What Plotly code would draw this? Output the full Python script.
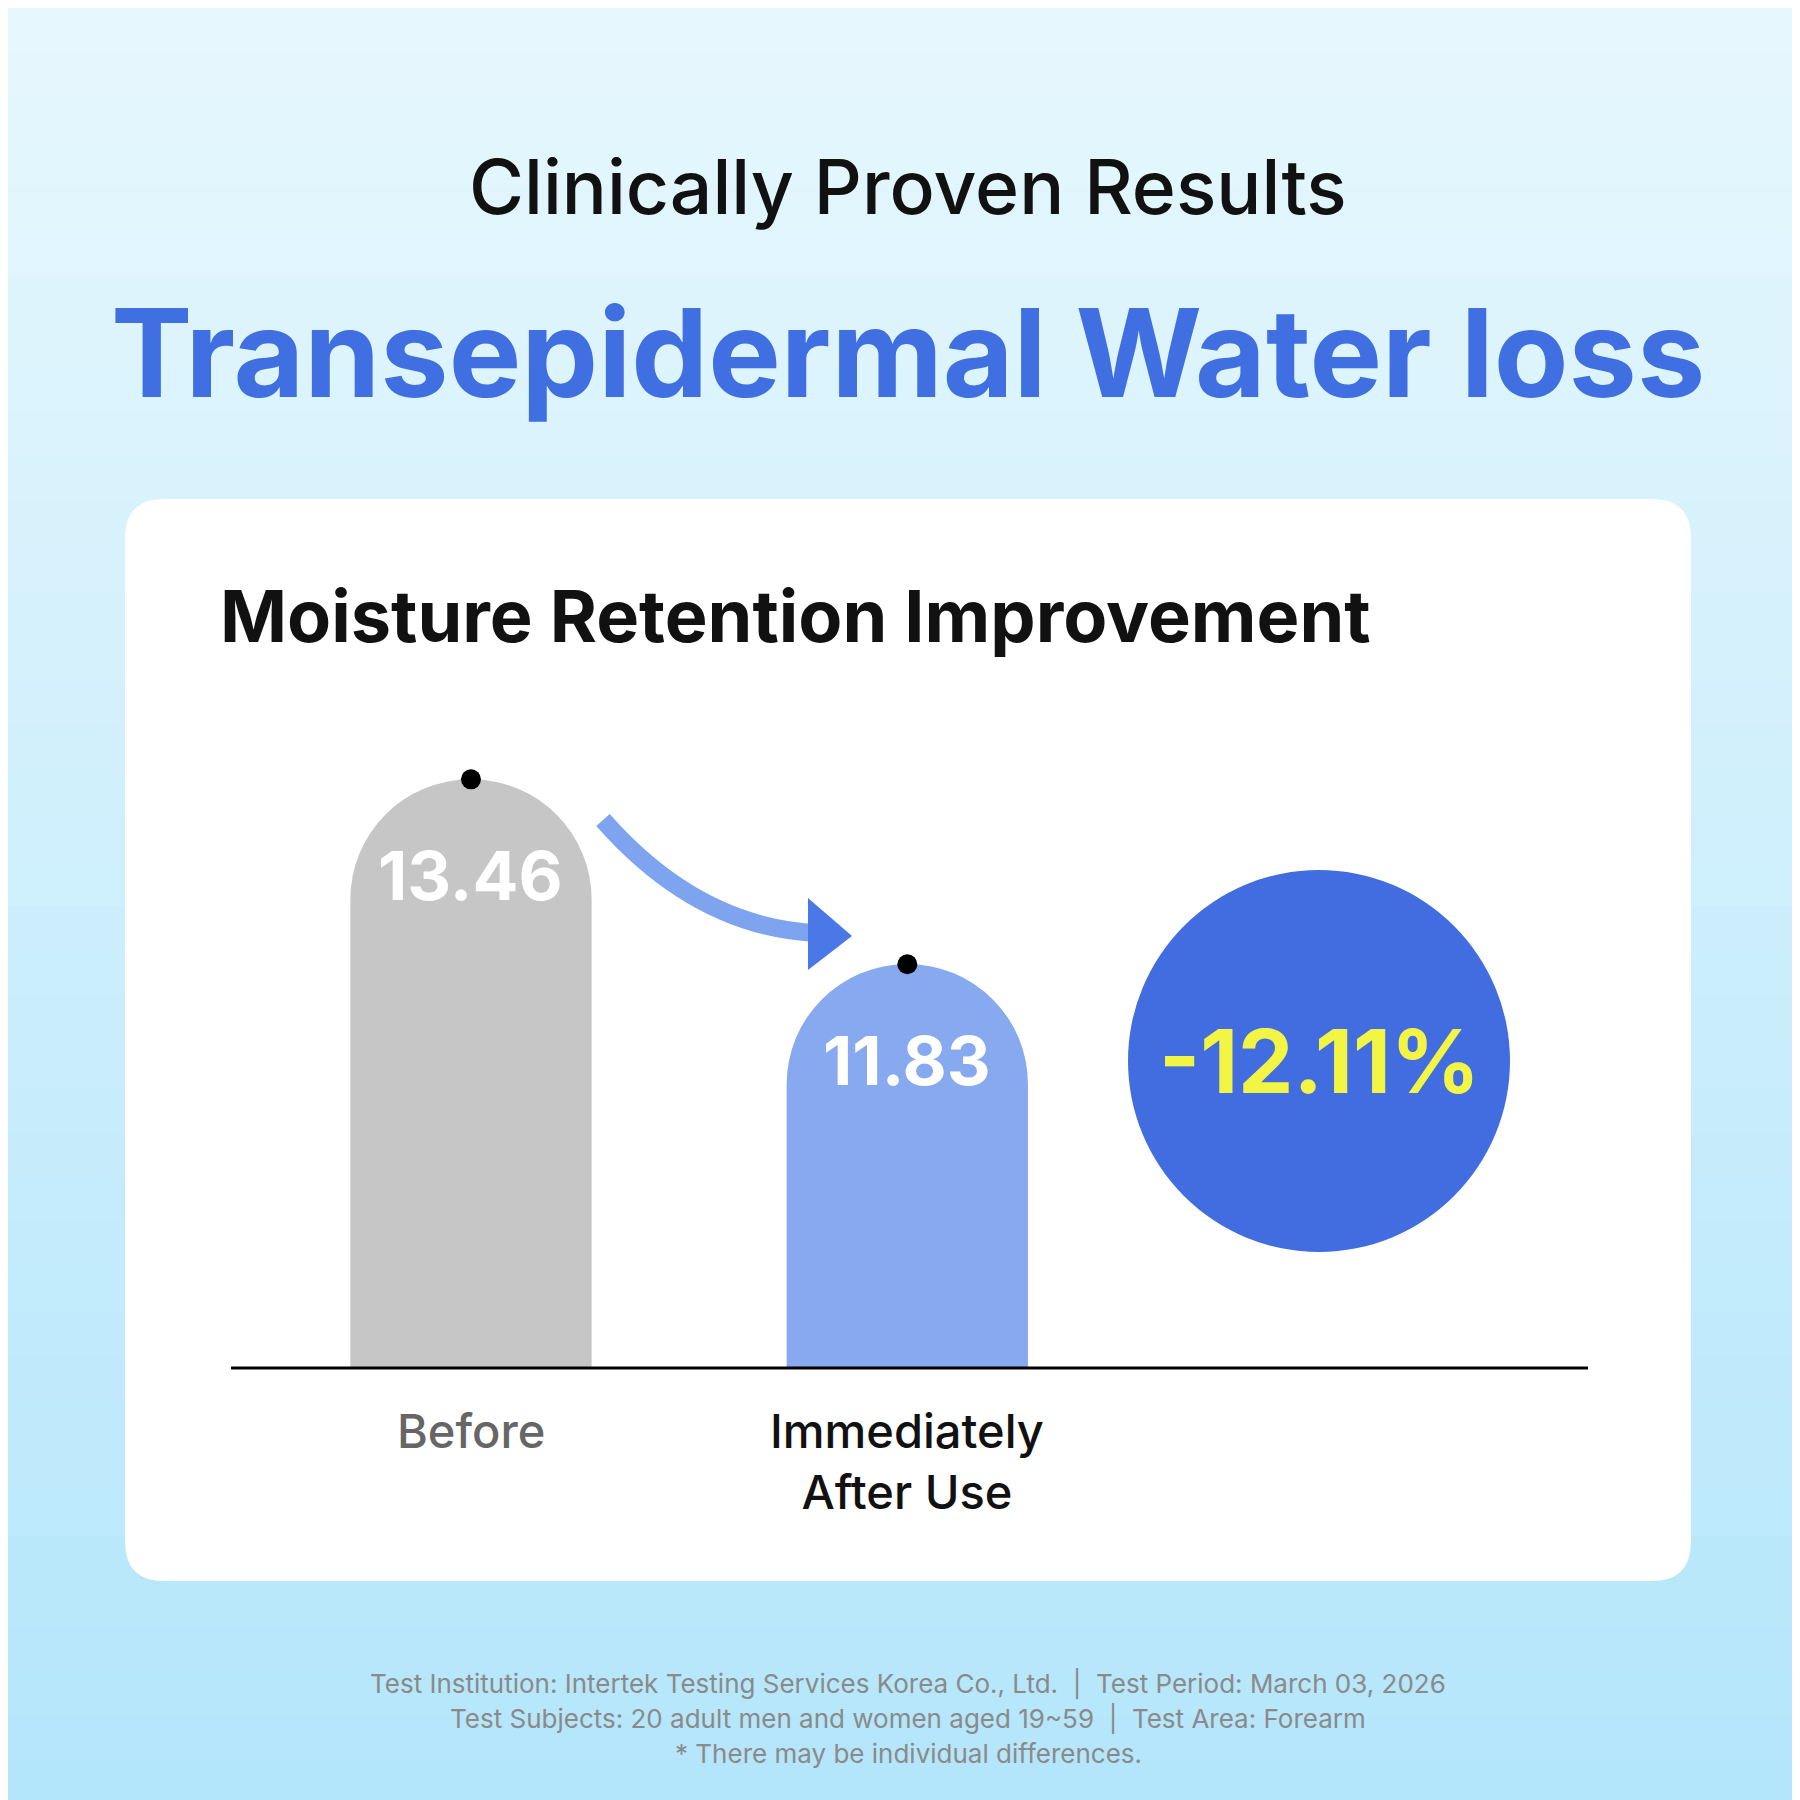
import plotly.graph_objects as go

# chart data
categories = ["Before", "Immediately<br>After Use"]
values = [13.46, 11.83]
value_labels = ["13.46", "11.83"]
change_label = "-12.11%"
footer_lines = [
    "Test Institution: Intertek Testing Services Korea Co., Ltd.  |  Test Period: March 03, 2026",
    "Test Subjects: 20 adult men and women aged 19~59  |  Test Area: Forearm",
    "* There may be individual differences.",
]

W = H = 1800
FONT = "Inter"


def px_y(p):
    return 1 - p / H


def px_x(p):
    return p / W


xs = list(range(len(values)))
fig = go.Figure()
fig.add_bar(x=xs, y=values, width=0.553,
            marker=dict(color=["#c6c6c6", "#86a9f0"], cornerradius="50%", line_width=0),
            hoverinfo="skip")
fig.add_scatter(x=xs, y=values, mode="markers",
                marker=dict(color="black", size=20), hoverinfo="skip")

shapes = []
# background gradient
n = 40
c0, c1 = (230, 247, 253), (180, 230, 251)
for i in range(n):
    t = i / (n - 1)
    col = "rgb(%d,%d,%d)" % tuple(round(a + (b - a) * t) for a, b in zip(c0, c1))
    shapes.append(dict(type="rect", xref="paper", yref="paper", layer="below",
                       x0=-0.01, x1=1.01, y0=1 - (i + 1) / n - 0.001, y1=1 - i / n + 0.001,
                       fillcolor=col, line_width=0))
# white card
x0, x1, y0, y1 = px_x(117), px_x(1683), px_y(1573), px_y(491)
r = 0.022
shapes.append(dict(type="path", xref="paper", yref="paper", layer="below",
                   path=f"M{x0+r},{y0} L{x1-r},{y0} Q{x1},{y0} {x1},{y0+r} L{x1},{y1-r} Q{x1},{y1} {x1-r},{y1} "
                        f"L{x0+r},{y1} Q{x0},{y1} {x0},{y1-r} L{x0},{y0+r} Q{x0},{y0} {x0+r},{y0} Z",
                   fillcolor="white", line_width=0))
# baseline
shapes.append(dict(type="line", xref="paper", yref="paper", x0=px_x(223), x1=px_x(1580),
                   y0=px_y(1360), y1=px_y(1360), line=dict(color="black", width=3)))
# circle
cx, cy, cr = 1311, 1053, 191
shapes.append(dict(type="circle", xref="paper", yref="paper",
                   x0=px_x(cx - cr), x1=px_x(cx + cr), y0=px_y(cy + cr), y1=px_y(cy - cr),
                   fillcolor="#416de0", line_width=0))
# curved arrow
shapes.append(dict(type="path", xref="paper", yref="paper",
                   path=f"M{px_x(595)},{px_y(812)} Q{px_x(690)},{px_y(920)} {px_x(810)},{px_y(925)}",
                   line=dict(color="#7ea4f0", width=18)))
shapes.append(dict(type="path", xref="paper", yref="paper",
                   path=f"M{px_x(800)},{px_y(890)} L{px_x(844)},{px_y(928)} L{px_x(800)},{px_y(962)} Z",
                   fillcolor="#4a78e6", line_width=0))

ann = [
    dict(text="Clinically Proven Results", x=0.5, y=px_y(178), font=dict(size=75, color="#111111", family=FONT, weight=500)),
    dict(text="<b>Transepidermal Water loss</b>", x=0.5, y=px_y(344), font=dict(size=122, color="#3f6fe0", family=FONT, weight=800)),
    dict(text="<b>Moisture Retention Improvement</b>", x=px_x(210), y=px_y(608), xanchor="left",
         font=dict(size=72, color="#111111", family=FONT)),
    dict(text="<b>" + change_label + "</b>", x=px_x(cx), y=px_y(cy), font=dict(size=88, color="#f3f545", family=FONT)),
]
for i, (v, lab, cat) in enumerate(zip(values, value_labels, categories)):
    ann.append(dict(text="<b>" + lab + "</b>", x=i, y=v - 0.84, xref="x", yref="y",
                    font=dict(size=68, color="white", family=FONT)))
    ann.append(dict(text=cat, x=i, y=px_y(1392), xref="x", yanchor="top",
                    font=dict(size=47, color="#666666" if i == 0 else "#111111", family=FONT, weight=500)))
for j, line in enumerate(footer_lines):
    ann.append(dict(text=line, x=0.5, y=px_y(1676 + 34.5 * j), font=dict(size=26, color="#8a8a8a", family=FONT)))
for a in ann:
    a.setdefault("xref", "paper")
    a.setdefault("yref", "paper")
    a.setdefault("xanchor", "center")
    a.setdefault("yanchor", "middle")
    a["showarrow"] = False

fig.update_layout(
    width=W, height=H, margin=dict(l=0, r=0, t=0, b=0),
    paper_bgcolor="#cdeefb", plot_bgcolor="rgba(0,0,0,0)",
    showlegend=False, shapes=shapes, annotations=ann,
    xaxis=dict(domain=[px_x(223), px_x(1580)], range=[-0.55, 2.56], visible=False),
    yaxis=dict(domain=[px_y(1360), 0.7], range=[8.27, 15.5], visible=False),
)
fig.write_html("out.html")
